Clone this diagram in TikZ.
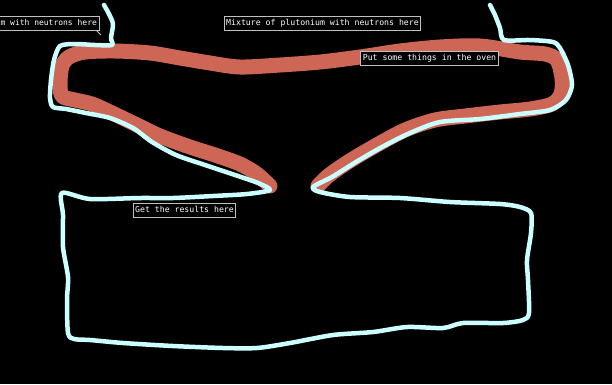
\documentclass[tikz,border=0pt]{standalone}
\usepackage{fontspec}
\setmonofont{DejaVu Sans Mono}
\definecolor{ovenred}{RGB}{205,102,85}
\definecolor{wirecyan}{RGB}{204,255,255}
\definecolor{tagframe}{RGB}{192,192,192}

\begin{document}
\begin{tikzpicture}[x=1pt, y=-1pt,
    wire/.style={draw=wirecyan, line width=4.5pt, line cap=round, line join=round},
    band/.style={draw=ovenred, line width=15pt, line cap=round, line join=round},
    tag/.style={draw=tagframe, line width=0.8pt, fill=black, text=white,
      font=\ttfamily\fontsize{8.2}{9}\selectfont, text height=6.5pt, text depth=2pt,
      inner xsep=2pt, inner ysep=2.7pt}]
			\useasboundingbox (0,0) rectangle (612,384);
			\fill[black] (0,0) rectangle (612,384);
			\clip (0,0) rectangle (612,384);
			
			%red band round the oven
			\draw[band] plot[smooth, tension=0.5] coordinates {
				(270,186) (257,174) (240,164) (215,155) (190,147) (160,136)
				(135,124) (110,112) (92,104) (75,100) (62,96) (60,82) (62,66)
				(69,57) (85,52) (115,51) (150,53) (180,58) (210,63) (240,67)
				(280,65) (320,62) (360,57) (400,51) (440,47) (480,46) (520,52)
				(545,54) (557,60) (562,78) (561,94) (552,104) (530,109)
				(500,112) (465,116) (435,120) (405,130) (375,146) (348,162)
				(328,176) (318,186)};
			
			%cyan outline, one stroke
			\draw[wire] plot[smooth, tension=0.45] coordinates {
				(104,5) (109,14) (113,24) (111,38) (112,45) (95,45) (75,44)
				(60,46) (54,60) (51,80) (50,98) (53,107) (66,109) (86,113)
				(110,118) (133,128) (152,142) (176,155) (205,165) (235,175)
				(258,183) (270,190) (247,194) (213,196) (173,198) (140,198)
				(90,199) (62,193) (63,215) (63,247) (68,277) (67,300)
				(68,333) (74,339) (90,340) (123,343) (173,346) (223,348)
				(257,348) (290,343) (333,335) (373,332) (407,327) (443,328)
				(463,323) (503,323) (523,320) (529,313) (528,280) (527,260)
				(531,233) (531,213) (520,207) (500,204) (450,202) (400,198)
				(350,197) (320,192) (313,187) (332,177) (356,162) (382,147)
				(410,133) (440,122) (480,119) (520,114) (550,110) (566,100)
				(572,85) (568,65) (560,48) (553,42) (530,40) (504,40)
				(500,28) (495,15) (490,5)};
			
			%labels
			\node (mixleft) at (99.3,23) [tag, anchor=east, font=\ttfamily\fontsize{8}{9}\selectfont]{m with neutrons here};
			\coordinate (tail) at (101,35);
			\draw[tagframe, line width=0.8pt] ([xshift=-3pt]mixleft.south east) -- (tail);
			\node (mixture) at (322.5,23) [tag]{Mixture of plutonium with neutrons here};
			\node (oven) at (429.5,58) [tag]{Put some things in the oven};
			\node (results) at (184.5,210.5) [tag]{Get the results here};
		\end{tikzpicture}
\end{document}
